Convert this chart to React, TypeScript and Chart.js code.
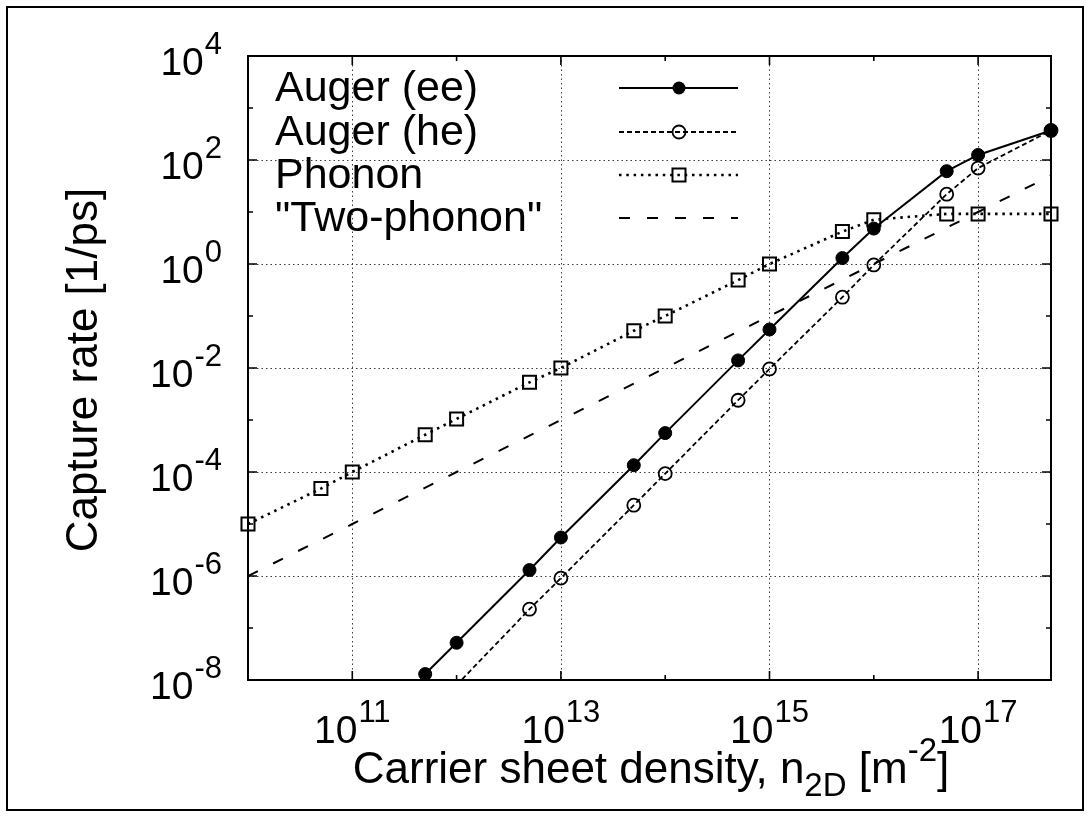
import React, { useEffect, useRef } from "react";
import { Chart, registerables } from "chart.js";

Chart.register(...registerables);

// ---- data ----
const augerEeX = [5e11, 1e12, 5e12, 1e13, 5e13, 1e14, 5e14, 1e15, 5e15, 1e16, 5e16, 1e17, 5e17];
const augerEe = [1.3e-8, 5.2e-8, 1.3e-6, 5.5e-6, 1.35e-4, 5.6e-4, 1.4e-2, 5.5e-2, 1.3, 4.8, 61, 125, 370];

const augerHeX = [1e12, 5e12, 1e13, 5e13, 1e14, 5e14, 1e15, 5e15, 1e16, 5e16, 1e17, 5e17];
const augerHe = [8e-9, 2.3e-7, 9.1e-7, 2.3e-5, 9.3e-5, 2.4e-3, 9.6e-3, 0.23, 0.96, 22, 70, 370];

const phononX = [1e10, 5e10, 1e11, 5e11, 1e12, 5e12, 1e13, 5e13, 1e14, 5e14, 1e15, 5e15, 1e16, 5e16, 1e17, 5e17];
const phonon = [1e-5, 4.8e-5, 1e-4, 5.2e-4, 1.05e-3, 5.3e-3, 1e-2, 5.2e-2, 0.1, 0.49, 1.0, 4.2, 7.1, 9.2, 9.2, 9.2];

const twoPhononX = [1e10, 1e11, 1e12, 1e13, 1e14, 1e15, 1e16, 1e17, 5e17];
const twoPhonon = [1e-6, 1e-5, 1e-4, 1e-3, 1e-2, 1e-1, 1, 10, 50];

const seriesLabels = ["Auger (ee)", "Auger (he)", "Phonon", "\"Two-phonon\""];

const xMin = 1e10;
const xMax = 5e17;
const yMin = 1e-8;
const yMax = 1e4;

const xTickExps = [10, 11, 12, 13, 14, 15, 16, 17];
const xLabelExps = [11, 13, 15, 17];
const yTickExps = [-8, -7, -6, -5, -4, -3, -2, -1, 0, 1, 2, 3, 4];
const yLabelExps = [-8, -6, -4, -2, 0, 2, 4];

const yTitle = "Capture rate [1/ps]";
const xTitleParts = [
  { t: "Carrier sheet density, n", small: false, dy: 0 },
  { t: "2D", small: true, dy: 13 },
  { t: " [m", small: false, dy: 0 },
  { t: "-2", small: true, dy: -22 },
  { t: "]", small: false, dy: 0 },
];

const FONT = '"Liberation Sans", Arial, Helvetica, sans-serif';
const TICK_SIZE = 39;
const SUP_SIZE = 31;
const TITLE_SIZE = 44;
const TITLE_SMALL = 33;
const LEGEND_SIZE = 43;

const toXY = (xs: number[], ys: number[]) => xs.map((x, i) => ({ x, y: ys[i] }));

function drawPower(ctx: CanvasRenderingContext2D, exp: number, x: number, y: number, align: string) {
  ctx.font = `${TICK_SIZE}px ${FONT}`;
  const wb = ctx.measureText("10").width;
  ctx.font = `${SUP_SIZE}px ${FONT}`;
  const sup = String(exp);
  const ws = ctx.measureText(sup).width;
  const total = wb + 1 + ws;
  const x0 = align === "center" ? x - total / 2 : x - total;
  ctx.textAlign = "left";
  ctx.textBaseline = "alphabetic";
  ctx.font = `${TICK_SIZE}px ${FONT}`;
  ctx.fillText("10", x0, y);
  ctx.font = `${SUP_SIZE}px ${FONT}`;
  ctx.fillText(sup, x0 + wb + 1, y - 21);
}

const gnuplotPlugin = {
  id: "gnuplotFrame",
  beforeDraw(chart: any) {
    const ctx = chart.ctx;
    ctx.save();
    ctx.fillStyle = "#fff";
    ctx.fillRect(0, 0, chart.width, chart.height);
    ctx.restore();
  },
  beforeDatasetsDraw(chart: any) {
    const ctx: CanvasRenderingContext2D = chart.ctx;
    const { left, right, top, bottom } = chart.chartArea;
    const xs = chart.scales.x;
    const ys = chart.scales.y;
    ctx.save();
    ctx.strokeStyle = "rgba(40,40,40,0.9)";
    ctx.lineWidth = 1;
    ctx.setLineDash([1.5, 3]);
    xLabelExps.forEach((e) => {
      const px = Math.round(xs.getPixelForValue(Math.pow(10, e))) + 0.5;
      ctx.beginPath();
      ctx.moveTo(px, top);
      ctx.lineTo(px, bottom);
      ctx.stroke();
    });
    yLabelExps.forEach((e) => {
      if (e === -8 || e === 4) return;
      const py = Math.round(ys.getPixelForValue(Math.pow(10, e))) + 0.5;
      ctx.beginPath();
      ctx.moveTo(left, py);
      ctx.lineTo(right, py);
      ctx.stroke();
    });
    ctx.restore();
  },
  afterDatasetsDraw(chart: any) {
    const ctx: CanvasRenderingContext2D = chart.ctx;
    const { left, right, top, bottom } = chart.chartArea;
    const xs = chart.scales.x;
    const ys = chart.scales.y;
    ctx.save();
    ctx.setLineDash([]);
    ctx.strokeStyle = "#000";
    ctx.fillStyle = "#000";

    // ticks (inward, mirrored)
    ctx.lineWidth = 1.6;
    xTickExps.forEach((e) => {
      const px = xs.getPixelForValue(Math.pow(10, e));
      const len = xLabelExps.includes(e) ? 9 : 5;
      ctx.beginPath();
      ctx.moveTo(px, bottom);
      ctx.lineTo(px, bottom - len);
      ctx.moveTo(px, top);
      ctx.lineTo(px, top + len);
      ctx.stroke();
    });
    yTickExps.forEach((e) => {
      const py = ys.getPixelForValue(Math.pow(10, e));
      const len = yLabelExps.includes(e) ? 9 : 5;
      ctx.beginPath();
      ctx.moveTo(left, py);
      ctx.lineTo(left + len, py);
      ctx.moveTo(right, py);
      ctx.lineTo(right - len, py);
      ctx.stroke();
    });

    // plot border
    ctx.lineWidth = 2;
    ctx.strokeRect(left, top, right - left, bottom - top);

    // outer frame
    ctx.lineWidth = 2;
    ctx.strokeRect(7, 7, 1076, 803);

    // tick labels
    xLabelExps.forEach((e) => {
      const px = xs.getPixelForValue(Math.pow(10, e));
      drawPower(ctx, e, px, bottom + 63, "center");
    });
    yLabelExps.forEach((e) => {
      const py = ys.getPixelForValue(Math.pow(10, e));
      drawPower(ctx, e, left - 26, py + 19, "right");
    });

    // y title
    ctx.save();
    ctx.translate(97, (top + bottom) / 2 + 2);
    ctx.rotate(-Math.PI / 2);
    ctx.font = `${TITLE_SIZE}px ${FONT}`;
    ctx.textAlign = "center";
    ctx.textBaseline = "alphabetic";
    ctx.fillText(yTitle, 0, 0);
    ctx.restore();

    // x title
    let total = 0;
    const widths = xTitleParts.map((p) => {
      ctx.font = `${p.small ? TITLE_SMALL : TITLE_SIZE}px ${FONT}`;
      const w = ctx.measureText(p.t).width;
      total += w;
      return w;
    });
    let cx = 651 - total / 2;
    ctx.textAlign = "left";
    ctx.textBaseline = "alphabetic";
    xTitleParts.forEach((p, i) => {
      ctx.font = `${p.small ? TITLE_SMALL : TITLE_SIZE}px ${FONT}`;
      ctx.fillText(p.t, cx, 783 + p.dy);
      cx += widths[i];
    });

    // legend
    const rows = [88, 132, 175, 218];
    chart.data.datasets.forEach((ds: any, i: number) => {
      const ry = rows[i];
      ctx.font = `${LEGEND_SIZE}px ${FONT}`;
      ctx.textAlign = "left";
      ctx.fillStyle = "#000";
      ctx.fillText(ds.label, 275, ry + 13);
      ctx.save();
      ctx.strokeStyle = ds.borderColor;
      ctx.lineWidth = ds.borderWidth;
      ctx.setLineDash(ds.borderDash || []);
      ctx.lineCap = "butt";
      ctx.beginPath();
      ctx.moveTo(619, ry);
      ctx.lineTo(738, ry);
      ctx.stroke();
      ctx.restore();
      const mx = 679;
      if (ds.legendMarker === "filled") {
        ctx.beginPath();
        ctx.arc(mx, ry, 6.5, 0, Math.PI * 2);
        ctx.fill();
      } else if (ds.legendMarker === "open") {
        ctx.save();
        ctx.lineWidth = 1.8;
        ctx.beginPath();
        ctx.arc(mx, ry, 6.5, 0, Math.PI * 2);
        ctx.stroke();
        ctx.restore();
      } else if (ds.legendMarker === "square") {
        ctx.save();
        ctx.lineWidth = 2;
        ctx.strokeRect(mx - 6.5, ry - 6.5, 13, 13);
        ctx.restore();
      }
    });
    ctx.restore();
  },
};

export default function App() {
  const canvasRef = useRef<HTMLCanvasElement | null>(null);

  useEffect(() => {
    if (!canvasRef.current) return;
    const chart = new Chart(canvasRef.current, {
      type: "line",
      data: {
        datasets: [
          {
            label: seriesLabels[0],
            data: toXY(augerEeX, augerEe),
            borderColor: "#000",
            borderWidth: 2,
            borderDash: [],
            pointStyle: "circle",
            pointRadius: 6.5,
            pointBackgroundColor: "#000",
            pointBorderColor: "#000",
            pointBorderWidth: 1,
            clip: 12,
            legendMarker: "filled",
          } as any,
          {
            label: seriesLabels[1],
            data: toXY(augerHeX, augerHe),
            borderColor: "#000",
            borderWidth: 1.8,
            borderDash: [5, 3],
            pointStyle: "circle",
            pointRadius: (c: any) => (c.raw && c.raw.y < yMin ? 0 : 6.5),
            pointBackgroundColor: "rgba(0,0,0,0)",
            pointBorderColor: "#000",
            pointBorderWidth: 1.8,
            clip: { left: 12, right: 12, top: 12, bottom: 0 },
            legendMarker: "open",
          } as any,
          {
            label: seriesLabels[2],
            data: toXY(phononX, phonon),
            borderColor: "#000",
            borderWidth: 2.6,
            borderDash: [2.5, 4.8],
            pointStyle: "rect",
            pointRadius: 9.2,
            pointBackgroundColor: "rgba(0,0,0,0)",
            pointBorderColor: "#000",
            pointBorderWidth: 2,
            clip: 14,
            legendMarker: "square",
          } as any,
          {
            label: seriesLabels[3],
            data: toXY(twoPhononX, twoPhonon),
            borderColor: "#000",
            borderWidth: 2,
            borderDash: [11, 17],
            pointRadius: 0,
            clip: 0,
            legendMarker: "none",
          } as any,
        ],
      },
      options: {
        responsive: false,
        animation: false,
        events: [],
        devicePixelRatio: 1,
        layout: { padding: { left: 248, top: 56, right: 40, bottom: 138 } },
        elements: { line: { tension: 0 } },
        plugins: {
          legend: { display: false },
          tooltip: { enabled: false },
          title: { display: false },
        },
        scales: {
          x: { type: "logarithmic", min: xMin, max: xMax, display: false },
          y: { type: "logarithmic", min: yMin, max: yMax, display: false },
        },
      },
      plugins: [gnuplotPlugin],
    });
    return () => chart.destroy();
  }, []);

  return (
    <div style={{ position: "fixed", left: 0, top: 0, width: 1091, height: 818, background: "#fff" }}>
      <canvas ref={canvasRef} width={1091} height={818} style={{ display: "block" }} />
    </div>
  );
}
